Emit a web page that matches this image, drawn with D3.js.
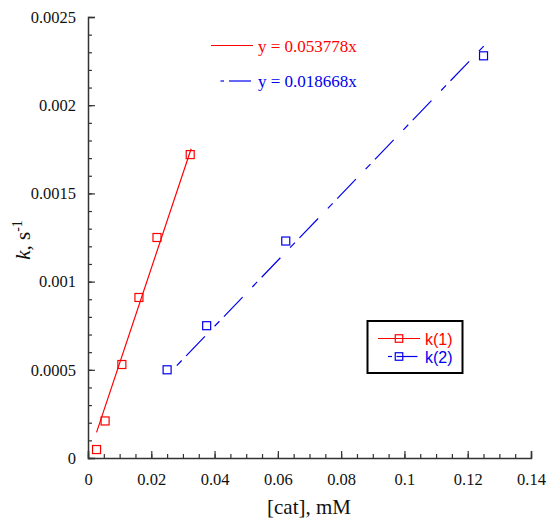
<!DOCTYPE html>
<html>
<head>
<meta charset="utf-8">
<script src="https://cdn.jsdelivr.net/npm/d3@7"></script>
<style>
  body { margin: 0; background: #fff; }
  svg { display: block; }
</style>
</head>
<body>
<div id="chart"></div>
<script>
// datos
const xTicks = [0, 0.02, 0.04, 0.06, 0.08, 0.1, 0.12, 0.14];
const xTickLabels = ["0", "0.02", "0.04", "0.06", "0.08", "0.1", "0.12", "0.14"];
const yTicks = [0, 0.0005, 0.001, 0.0015, 0.002, 0.0025];
const yTickLabels = ["0", "0.0005", "0.001", "0.0015", "0.002", "0.0025"];

const k1Cat = [0.0027, 0.0054, 0.0107, 0.0161, 0.0218, 0.0323];
const k1Val = [0.000048, 0.00021, 0.00053, 0.00091, 0.00125, 0.00172];
const k2Cat = [0.025, 0.0375, 0.0625, 0.125];
const k2Val = [0.0005, 0.00075, 0.00123, 0.00228];

const slope1 = 0.053778;
const slope2 = 0.018668;
const fit1Range = [0.0027, 0.0326];
const fit2Range = [0.025, 0.1255];

const seriesNames = ["k(1)", "k(2)"];
const fitLabels = ["y = 0.053778x", "y = 0.018668x"];

const W = 547, H = 519;
const svg = d3.select("#chart").append("svg")
  .attr("width", W).attr("height", H);

const x = d3.scaleLinear().domain([0, 0.14]).range([88, 531]);
const y = d3.scaleLinear().domain([0, 0.0025]).range([458, 17]);

const serif = "'Liberation Serif', 'Times New Roman', serif";
const sans = "'Liberation Sans', Arial, sans-serif";
const red = "#ff0000", blue = "#0000ee";
const dash2 = "7,6.5,27,14";

// ejes: ticks menores
svg.append("g")
  .attr("transform", "translate(0," + y(0) + ")")
  .call(d3.axisBottom(x).tickValues(d3.range(0, 0.1401, 0.005)).tickSize(-4).tickFormat(""))
  .call(g => g.select(".domain").remove());
svg.append("g")
  .attr("transform", "translate(" + x(0) + ",0)")
  .call(d3.axisLeft(y).tickValues(d3.range(0, 0.00251, 0.0001)).tickSize(-4).tickFormat(""))
  .call(g => g.select(".domain").remove());

// ejes principales
const xAxis = svg.append("g")
  .attr("transform", "translate(0," + y(0) + ")")
  .call(d3.axisBottom(x).tickValues(xTicks).tickSize(-7).tickPadding(15)
    .tickFormat((d, i) => xTickLabels[i]));
const yAxis = svg.append("g")
  .attr("transform", "translate(" + x(0) + ",0)")
  .call(d3.axisLeft(y).tickValues(yTicks).tickSize(-7).tickPadding(12)
    .tickFormat((d, i) => yTickLabels[i]));

[xAxis, yAxis].forEach(g => {
  g.attr("font-family", null).attr("font-size", null);
  g.selectAll("text").style("font-family", serif).style("font-size", "16.5px").attr("fill", "#111");
});
svg.selectAll(".tick line").attr("stroke", "#333").attr("stroke-width", 1.2);
svg.selectAll(".domain").attr("stroke", "#333").attr("stroke-width", 1.5);

// rectas de ajuste
const line = d3.line().x(d => x(d[0])).y(d => y(d[1]));
svg.append("path")
  .datum(fit1Range.map(v => [v, slope1 * v]))
  .attr("d", line).attr("fill", "none").attr("stroke", red).attr("stroke-width", 1.2);
svg.append("path")
  .datum(fit2Range.map(v => [v, slope2 * v]))
  .attr("d", line).attr("fill", "none").attr("stroke", blue).attr("stroke-width", 1.2)
  .attr("stroke-dasharray", dash2).attr("stroke-dashoffset", 40.5);

// puntos
const sq = 8;
svg.selectAll(".p1").data(k1Cat).enter().append("rect")
  .attr("x", (d) => x(d) - sq / 2).attr("y", (d, i) => y(k1Val[i]) - sq / 2)
  .attr("width", sq).attr("height", sq)
  .attr("fill", "none").attr("stroke", red).attr("stroke-width", 1.2);
svg.selectAll(".p2").data(k2Cat).enter().append("rect")
  .attr("x", (d) => x(d) - sq / 2).attr("y", (d, i) => y(k2Val[i]) - sq / 2)
  .attr("width", sq).attr("height", sq)
  .attr("fill", "none").attr("stroke", blue).attr("stroke-width", 1.2);

// ecuaciones
svg.append("line").attr("x1", 211).attr("x2", 253).attr("y1", 45.5).attr("y2", 45.5)
  .attr("stroke", red).attr("stroke-width", 1.2);
svg.append("text").attr("x", 258).attr("y", 51.5).text(fitLabels[0])
  .style("font-family", serif).style("font-size", "17px").attr("fill", red);
svg.append("line").attr("x1", 220.5).attr("x2", 224).attr("y1", 81).attr("y2", 81)
  .attr("stroke", blue).attr("stroke-width", 1.2);
svg.append("line").attr("x1", 229).attr("x2", 251).attr("y1", 81).attr("y2", 81)
  .attr("stroke", blue).attr("stroke-width", 1.2);
svg.append("text").attr("x", 258).attr("y", 86.5).text(fitLabels[1])
  .style("font-family", serif).style("font-size", "17px").attr("fill", blue);

// leyenda
const lg = svg.append("g");
lg.append("rect").attr("x", 367.5).attr("y", 321).attr("width", 95).attr("height", 52)
  .attr("fill", "#fff").attr("stroke", "#000").attr("stroke-width", 2);
lg.append("line").attr("x1", 378).attr("x2", 420).attr("y1", 338.5).attr("y2", 338.5)
  .attr("stroke", red).attr("stroke-width", 1.2);
lg.append("rect").attr("x", 399 - 3.75).attr("y", 338.5 - 3.75).attr("width", 7.5).attr("height", 7.5)
  .attr("fill", "none").attr("stroke", red).attr("stroke-width", 1.2);
lg.append("text").attr("x", 425).attr("y", 344.5).text(seriesNames[0])
  .style("font-family", sans).style("font-size", "16px").attr("fill", red);
lg.append("line").attr("x1", 388).attr("x2", 392).attr("y1", 356.5).attr("y2", 356.5)
  .attr("stroke", blue).attr("stroke-width", 1.2);
lg.append("line").attr("x1", 396.5).attr("x2", 417.5).attr("y1", 356.5).attr("y2", 356.5)
  .attr("stroke", blue).attr("stroke-width", 1.2);
lg.append("rect").attr("x", 399 - 3.75).attr("y", 356.5 - 3.75).attr("width", 7.5).attr("height", 7.5)
  .attr("fill", "none").attr("stroke", blue).attr("stroke-width", 1.2);
lg.append("text").attr("x", 425).attr("y", 362.5).text(seriesNames[1])
  .style("font-family", sans).style("font-size", "16px").attr("fill", blue);

// titulos de ejes
svg.append("text").attr("x", 309).attr("y", 514).attr("text-anchor", "middle")
  .style("font-family", serif).style("font-size", "21px").attr("fill", "#111")
  .text("[cat], mM");
const yl = svg.append("text")
  .attr("transform", "translate(30,240) rotate(-90)")
  .attr("text-anchor", "middle")
  .style("font-family", serif).style("font-size", "21px").attr("fill", "#111");
yl.append("tspan").attr("font-style", "italic").text("k");
yl.append("tspan").text(", s");
yl.append("tspan").style("font-size", "14px").attr("dy", -8).text("-1");
</script>
</body>
</html>
